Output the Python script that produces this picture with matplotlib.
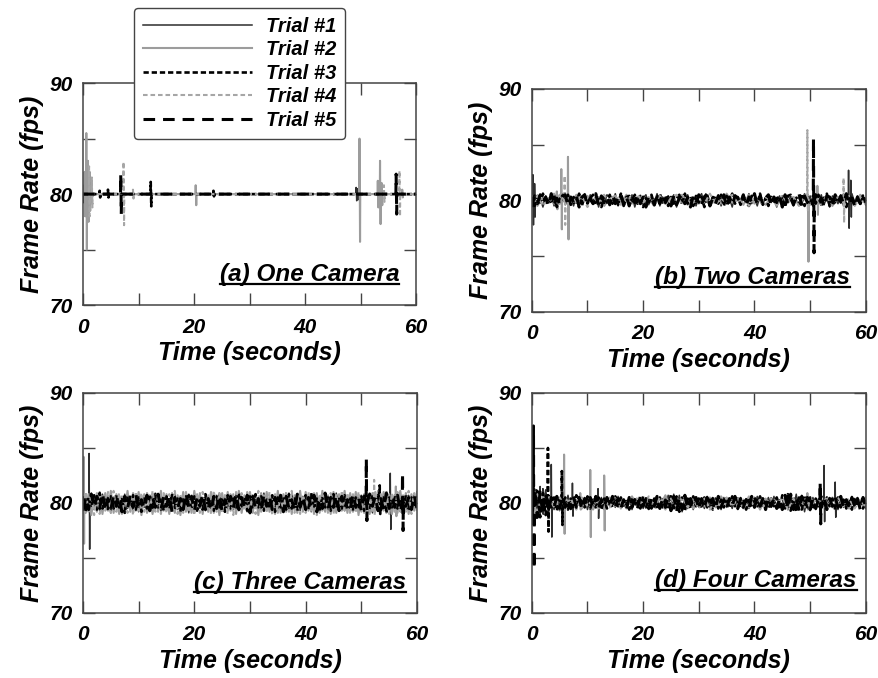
import matplotlib
matplotlib.use("Agg")
import matplotlib.pyplot as plt
from matplotlib.lines import Line2D
import numpy as np

plt.rcParams['font.family'] = ['Liberation Sans', 'DejaVu Sans']
plt.rcParams['font.weight'] = 'bold'
plt.rcParams['font.style'] = 'italic'
plt.rcParams['axes.labelweight'] = 'bold'

trial_names = ["Trial #1", "Trial #2", "Trial #3", "Trial #4", "Trial #5"]
panel_titles = ["(a) One Camera", "(b) Two Cameras", "(c) Three Cameras", "(d) Four Cameras"]

# jitter around 80 fps, in tenths of fps (evenly spaced over 0-60 s)
b1 = [-4, 5, -3, 2, -6, 4, -2, 5, -5, 3, -3, 6, -4, 2, 3, -5, 4, -2, -4, 6, -3, 5, -2, 4, -6, 3, -4, 5, 2, -3, 6, -5, 3, -2, 4, -4, 5, -6, 3, -3, 2, 5, -4, 4, -2, 6, -5, 3, -3, 4, -2, 5, -6, 2, 4, -3, 5, -4, 3, -5, 2, 6, -3, 4, -4, 3, -2, 5, -5, 4, -3, 2, -6, 5, 3, -4, 4, -2, 6, -3, 2, -5, 4, -4, 3, 5, -2, 3, -6, 4, -3, 5, -2, 4, -5, 3, 2, -4, 6, -3, 4, -5, 2, -2, 5, -4, 3, -6, 4, 2, -3, 5, -5, 3, -4, 6, -2, 4, -3, 5, -4]
b2 = [4, -5, 3, -2, 6, -3, 2, -4, 5, -3, 4, -2, 3, -5, 2, 4, -3, 5, -2, 3, -4, 2, -5, 4, -3, 2, -2, 5, -4, 3, -3, 4, -5, 2, -3, 6, -2, 3, -4, 5, -3, 2, -4, 3, -5, 4, -2, 3, -3, 5, -4, 2, -3, 4, -5, 3, -2, 4, -3, 5, -4]
b3 = [3, -5, 4, -2, 6, -4, 3, -3, 5, -6, 2, 4, -3, 5, -4, 3, -2, 6, -5, 4, -3, 2, 5, -4, 3, -6, 4, -2, 5, -3, 2, -4, 6, -5, 3, 4, -2, 5, -3, 4, -6, 2, -3, 5, -4, 3, 6, -2, 4, -5, 3, -3, 2, 5, -4, 6, -3, 2, -5, 4, -2, 3, -6, 5, -4, 3, 2, -3, 5, -5, 4, -2, 6, -3, 3, -4, 5, -2, -5, 4, 3, -3, 6, -4, 2, -5, 5, -3, 4, -2, 3, -6, 4, 5, -3, 2, -4, 6, -5, 3, -2, 4, -3, 5, -4, 2, 6, -5, 3, -3, 4, -2, 5, -6, 3, 4, -4, 2, -3, 5, -4]
b4 = [-3, 4, -5, 2, -3, 5, -4, 3, -2, 4, -6, 3, -2, 5, -3, 4, -4, 2, -3, 5, -2, 3, -5, 4, -3, 2, 5, -4, 3, -2, 4, -3, 6, -4, 2, -3, 5, -2, 4, -5, 3, -3, 2, 4, -4, 5, -2, 3, -5, 4, -3, 2, -4, 5, -3, 3, -2, 4, -5, 3, -3]
b5 = [-6, 4, -3, 5, -2, 3, -5, 6, -4, 2, -3, 4, 5, -5, 3, -2, 4, -6, 3, 5, -4, 2, -3, 6, -5, 4, -2, 3, -4, 5, -3, 2, 6, -4, 3, -5, 4, -2, 5, -3, 3, -6, 4, 2, -4, 5, -3, 6, -2, 3, -5, 4, -4, 2, 5, -3, 3, -6, 4, -2, 5, -4, 3, 6, -5, 2, -3, 4, -2, 5, -6, 3, -4, 4, 2, -3, 5, -5, 3, -2, 6, -4, 4, -3, 2, 5, -5, 3, -2, 4, -6, 5, -3, 2, -4, 3, 6, -5, 4, -2, 3, -4, 5, -3, 2, -6, 4, 3, -5, 5, -2, 4, -3, 6, -4, 2, -5, 3, -3, 4, -2]

c1 = [-8, 7, -5, 9, -6, 4, -7, 8, -3, 6, -9, 5, -4, 7, -6, 8, -5, 3, -7, 6, -8, 5, -4, 9, -6, 7, -3, 5, -8, 6, -5, 4, -7, 8, -6, 5, -4, 7, -9, 6, -3, 8, -5, 4, -7, 6, -8, 5, -6, 9, -4, 7, -5, 3, -6, 8, -7, 5, -4, 6, -8, 7, -5, 4, -6, 9, -7, 5, -3, 6, -8, 4, -5, 7, -6, 8, -4, 5, -7, 6, -5, 3, -8, 7, -6, 5, -4, 8, -7, 6, -5, 9, -3, 6, -7, 5, -8, 4, -6, 7, -5, 8, -4, 6, -9, 5, -7, 3, -6, 8, -5, 7, -4, 6, -8, 5, -6, 7, -3, 8, -5]
c2 = [10, -9, 8, -11, 7, -8, 10, -10, 9, -7, 11, -9, 8, -10, 6, -9, 11, -8, 9, -7, 10, -11, 8, -9, 7, -10, 9, -8, 11, -7, 8, -10, 9, -9, 7, -11, 10, -8, 8, -9, 11, -7, 9, -10, 8, -8, 10, -9, 7, -11, 9, -8, 10, -7, 8, -10, 11, -9, 7, -8, 10, -9, 8, -11, 9, -7, 10, -8, 7, -10, 11, -9, 8, -8, 9, -10, 7, -9, 11, -8, 10, -7, 8, -10, 9, -9, 11, -8, 7, -10, 10, -9, 8, -7, 11, -9, 9, -8, 10, -11, 7, -9, 8, -10, 9, -7, 11, -8, 10, -9, 8, -10, 7, -9, 11, -8, 9, -10, 8, -7, 10]
c3 = [6, -8, 5, -4, 7, -6, 9, -5, 3, -7, 6, -5, 8, -4, 5, -9, 6, -3, 7, -6, 5, -8, 4, -5, 7, -6, 8, -4, 3, -7, 6, -5, 9, -6, 4, -8, 5, -3, 7, -5, 6, -7, 4, -6, 8, -5, 3, -7, 6, -4, 5, -8, 7, -5, 4, -6, 9, -3, 5, -7, 6, -5, 8, -4, 6, -7, 3, -5, 7, -8, 5, -4, 6, -6, 8, -5, 4, -7, 5, -3, 7, -6, 9, -5, 4, -8, 6, -4, 5, -7, 8, -3, 6, -5, 7, -6, 4, -8, 5, -5, 6, -7, 3, -6, 8, -4, 7, -5, 5, -9, 6, -4, 7, -5, 3, -6, 8, -7, 5, -4, 6]
c4 = [-9, 10, -8, 7, -11, 9, -10, 8, -7, 10, -9, 11, -8, 9, -10, 7, -9, 8, -11, 10, -7, 9, -8, 10, -9, 11, -8, 7, -10, 9, -9, 8, -7, 11, -10, 8, -9, 10, -8, 7, -11, 9, -9, 10, -7, 8, -10, 11, -8, 9, -9, 7, -10, 8, -11, 10, -8, 9, -7, 10, -9, 8, -10, 11, -8, 7, -9, 10, -11, 8, -9, 9, -7, 10, -8, 11, -9, 8, -10, 7, -9, 10, -8, 9, -11, 8, -7, 10, -9, 9, -10, 8, -8, 11, -7, 9, -10, 8, -9, 10, -8, 7, -11, 9, -9, 10, -8, 8, -7, 11, -10, 9, -8, 10, -9, 7, -8, 11, -10, 9, -8]
c5 = [-7, 5, -6, 8, -4, 6, -5, 9, -7, 4, -6, 7, -3, 5, -8, 6, -5, 7, -4, 8, -6, 3, -5, 7, -7, 5, -4, 8, -6, 6, -3, 7, -8, 5, -5, 4, -6, 9, -4, 6, -7, 5, -3, 8, -6, 4, -7, 6, -5, 7, -8, 3, -4, 6, -5, 8, -6, 5, -4, 7, -9, 6, -5, 4, -7, 8, -3, 6, -6, 5, -4, 7, -8, 6, -5, 3, -7, 8, -4, 6, -6, 5, -3, 7, -8, 4, -5, 9, -6, 5, -4, 7, -7, 6, -5, 3, -6, 8, -4, 5, -7, 6, -5, 8, -3, 6, -7, 4, -6, 9, -5, 5, -4, 7, -8, 6, -3, 5, -6, 7, -5]

d1 = [-14, 13, -12, 15, -10, 12, -8, 7, -6, 5, -7, 6, -5, 7, -6, 4, -5, 6, -4, 5, -6, 4, -5, 3, -4, 5, -6, 4, -3, 5, -4, 6, -5, 3, -4, 5, -6, 4, -3, 5, -5, 4, -6, 3, -4, 5, -3, 4, -5, 7, -6, 8, -5, 7, -8, 6, -5, 4, -6, 5, -4, 3, -5, 6, -4, 5, -3, 4, -6, 5, -4, 3, -5, 4, -6, 5, -3, 4, -5, 3, -4, 6, -5, 4, -3, 5, -4, 6, -5, 3, -4, 5, -6, 7, -5, 8, -6, 7, -8, 6, -7, 5, -6, 4, -5, 6, -4, 5, -3, 4, -6, 5, -4, 3, -5, 6, -4, 5, -3, 4, -5]
d2 = [8, -9, 6, -5, 4, -6, 5, -4, 3, -5, 4, -6, 3, -4, 5, -3, 4, -5, 6, -4, 3, -5, 4, -3, 7, -6, 5, -4, 3, -5, 4, -3, 5, -4, 6, -3, 4, -5, 3, -4, 5, -6, 4, -3, 5, -4, 6, -5, 3, -4, 5, -3, 4, -6, 5, -4, 3, -5, 4, -3, 5]
d3 = [12, -15, 11, -13, 9, -11, 7, -6, 5, -7, 6, -4, 5, -6, 4, -5, 7, -3, 5, -4, 6, -5, 3, -4, 5, -6, 4, -5, 3, -4, 6, -3, 5, -4, 4, -6, 5, -3, 4, -5, 6, -4, 3, -5, 4, -6, 5, -4, 3, -6, 8, -7, 6, -8, 5, -7, 4, -5, 6, -3, 4, -5, 5, -4, 3, -6, 4, -5, 3, -4, 5, -4, 6, -3, 4, -5, 3, -6, 4, -4, 5, -3, 6, -4, 3, -5, 4, -3, 5, -6, 7, -5, 8, -7, 6, -8, 5, -6, 7, -4, 5, -5, 4, -3, 6, -4, 5, -3, 4, -6, 5, -4, 3, -5, 4, -6, 5, -3, 4, -5, 3]
d4 = [-7, 8, -5, 6, -4, 5, -3, 4, -6, 5, -3, 4, -5, 3, -4, 6, -5, 3, -4, 5, -3, 6, -4, 5, -6, 4, -3, 5, -4, 3, -5, 4, -6, 3, -4, 5, -3, 4, -5, 6, -4, 3, -5, 4, -3, 5, -6, 4, -3, 5, -4, 3, -5, 6, -4, 5, -3, 4, -5, 3, -4]
d5 = [-10, 12, -13, 10, -11, 9, -6, 5, -4, 6, -5, 7, -4, 3, -5, 6, -4, 5, -6, 4, -3, 5, -4, 6, -5, 3, -4, 5, -3, 6, -4, 4, -5, 3, -6, 5, -4, 3, -5, 6, -3, 4, -5, 4, -3, 6, -5, 4, -4, 5, -7, 6, -8, 5, -6, 7, -5, 4, -3, 5, -6, 4, -4, 5, -3, 4, -5, 6, -4, 3, -5, 4, -3, 6, -5, 4, -4, 3, -5, 6, -4, 5, -3, 4, -6, 5, -3, 4, -5, 4, -6, 7, -5, 8, -6, 5, -7, 6, -4, 5, -6, 4, -5, 3, -4, 5, -6, 4, -3, 5, -4, 6, -5, 3, -4, 5, -3, 4, -6, 5, -4]

# frame-rate spikes (time s, fps)
a1_spk = [(0.1, 80.8), (0.2, 79.2), (49.2, 80.6), (49.3, 79.4), (49.5, 80.5), (49.6, 79.5)]
a2_spk = [(0.3, 82.0), (0.4, 78.0), (0.6, 85.5), (0.7, 75.0), (0.9, 83.0), (1.0, 77.5), (1.2, 82.0), (1.3, 78.5),
          (1.5, 81.0), (1.6, 79.2), (20.3, 80.8), (20.4, 79.0), (49.8, 85.0), (49.9, 75.7), (53.1, 81.2),
          (53.2, 78.8), (53.5, 83.0), (53.6, 77.3), (53.8, 81.0), (53.9, 79.0), (57.5, 80.4), (57.6, 79.7)]
a3_spk = [(3.0, 80.3), (3.1, 79.7), (4.5, 80.4), (4.6, 79.7), (12.2, 81.1), (12.3, 78.9), (23.5, 80.3), (23.6, 79.8)]
a4_spk = [(1.1, 82.5), (1.2, 78.0), (1.6, 81.5), (1.7, 78.8), (7.3, 82.9), (7.4, 77.2), (9.0, 80.4), (9.1, 79.6),
          (54.2, 80.8), (54.3, 79.3), (57.0, 82.1), (57.1, 78.0)]
a5_spk = [(6.8, 81.8), (6.9, 78.2), (56.4, 81.8), (56.5, 78.2)]

b1_spk = [(0.2, 82.3), (0.3, 77.8), (0.5, 81.5), (0.6, 78.5), (56.9, 82.7), (57.0, 77.5), (57.3, 81.8), (57.4, 78.5)]
b2_spk = [(4.5, 80.8), (4.6, 79.2), (5.3, 82.8), (5.4, 77.4), (6.5, 83.9), (6.6, 76.5), (49.6, 80.5), (49.7, 74.5),
          (51.3, 81.3), (51.4, 78.7)]
b3_spk = []
b4_spk = [(5.9, 82.2), (6.0, 77.8), (49.5, 86.3), (49.6, 79.0), (56.0, 82.0), (56.1, 78.0)]
b5_spk = [(50.6, 85.5), (50.7, 75.3)]

c1_spk = [(1.1, 84.5), (1.2, 75.8), (55.2, 82.7), (55.3, 77.6)]
c2_spk = [(0.1, 84.2), (0.2, 76.3), (56.2, 81.5), (56.3, 78.8)]
c3_spk = [(53.3, 81.6), (53.4, 79.0)]
c4_spk = [(52.3, 82.1), (52.4, 78.9)]
c5_spk = [(50.9, 84.0), (51.0, 78.4), (57.4, 82.7), (57.5, 77.5)]

d1_spk = [(0.2, 81.5), (0.3, 78.3), (0.8, 81.2), (0.9, 78.6), (1.4, 81.0), (1.5, 78.7), (2.0, 81.3), (2.1, 79.0),
          (3.5, 83.5), (3.6, 76.9), (7.3, 81.8), (7.4, 78.8), (11.9, 81.3), (12.0, 78.6), (52.5, 83.4),
          (52.6, 78.3), (54.5, 81.9), (54.6, 78.7)]
d2_spk = [(5.8, 84.4), (5.9, 77.2), (8.7, 80.9), (8.8, 79.4), (10.5, 83.0), (10.6, 76.9), (13.0, 82.5),
          (13.1, 77.5), (49.5, 80.9), (49.6, 79.4)]
d3_spk = [(2.9, 85.0), (3.0, 77.4), (5.4, 82.9), (5.5, 78.0)]
d4_spk = [(0.5, 81.0), (0.6, 79.0)]
d5_spk = [(0.3, 87.0), (0.4, 74.0), (51.8, 81.9), (51.9, 78.1)]

panels = [
    [(None, a1_spk), (None, a2_spk), (None, a3_spk), (None, a4_spk), (None, a5_spk)],
    [(b1, b1_spk), (b2, b2_spk), (b3, b3_spk), (b4, b4_spk), (b5, b5_spk)],
    [(c1, c1_spk), (c2, c2_spk), (c3, c3_spk), (c4, c4_spk), (c5, c5_spk)],
    [(d1, d1_spk), (d2, d2_spk), (d3, d3_spk), (d4, d4_spk), (d5, d5_spk)],
]

styles = [
    dict(color='#2e2e2e', lw=1.1, ls='-'),
    dict(color='#9c9c9c', lw=1.5, ls='-'),
    dict(color='black', lw=1.9, ls=(0, (2.0, 1.1))),
    dict(color='#a6a6a6', lw=1.5, ls=(0, (2.2, 1.4))),
    dict(color='black', lw=2.2, ls=(0, (3.8, 2.6))),
]


def series(jitter, spikes):
    if jitter is None:
        t, v = [0.0, 60.0], [80.0, 80.0]
    else:
        t = list(np.linspace(0, 60, len(jitter)))
        v = [80 + j / 10 for j in jitter]
    for ts, vs in spikes:
        # each glitch leaves from and returns to the 80 fps level
        t += [ts - 0.04, ts, ts + 0.04]
        v += [80.0, vs, 80.0]
    order = np.argsort(t, kind='stable')
    return np.array(t)[order], np.array(v)[order]


fig = plt.figure(figsize=(8.79, 6.78), dpi=100)
positions = [
    [0.0944, 0.550, 0.379, 0.3274],
    [0.605, 0.540, 0.380, 0.329],
    [0.0944, 0.0959, 0.380, 0.3245],
    [0.605, 0.0959, 0.380, 0.3245],
]
title_xy = [(0.949, 0.11), (0.952, 0.125), (0.967, 0.11), (0.973, 0.12)]

axes = []
titles = []
for k, pos in enumerate(positions):
    ax = fig.add_axes(pos)
    for (jit, spk), st in zip(panels[k], styles):
        t, v = series(jit, spk)
        ax.plot(t, v, color=st['color'], lw=st['lw'], linestyle=st['ls'])
    ax.set_xlim(0, 60)
    ax.set_ylim(70, 90)
    ax.set_xticks([0, 10, 20, 30, 40, 50, 60])
    ax.set_xticklabels(['0', '', '20', '', '40', '', '60'])
    ax.set_yticks([70, 75, 80, 85, 90])
    ax.set_yticklabels(['70', '', '80', '', '90'])
    ax.tick_params(axis='x', direction='in', length=8.5, width=1, color='#444444',
                   top=True, labelsize=15, pad=9)
    ax.tick_params(axis='y', direction='in', length=8.5, width=1, color='#444444',
                   right=True, labelsize=15, pad=7)
    for sp in ax.spines.values():
        sp.set_color('#444444')
        sp.set_linewidth(1.1)
    ax.set_xlabel('Time (seconds)', fontsize=18, labelpad=3)
    ax.set_ylabel('Frame Rate (fps)', fontsize=18, labelpad=4)
    tx, ty = title_xy[k]
    titles.append(ax.text(tx, ty, panel_titles[k], transform=ax.transAxes, ha='right',
                          va='baseline', fontsize=17.5))
    axes.append(ax)

handles = [Line2D([], [], color=st['color'], lw=st['lw'], linestyle=st['ls']) for st in styles]
fig.legend(handles, trial_names, loc='upper left', bbox_to_anchor=(134 / 879, 1 - 8 / 678),
           fontsize=14.5, handlelength=5.4, handletextpad=0.7, labelspacing=0.22,
           borderpad=0.45, borderaxespad=0, fancybox=True, framealpha=1,
           edgecolor='#444444')

# underline the panel captions
fig.canvas.draw()
inv = fig.transFigure.inverted()
for txt in titles:
    bb = txt.get_window_extent()
    (x0, y0), (x1, _) = inv.transform([(bb.x0, bb.y0 + 1.5), (bb.x1, bb.y1)])
    fig.add_artist(Line2D([x0, x1], [y0, y0], transform=fig.transFigure, color='black', lw=1.6))

fig.savefig('out.png', dpi=100)
